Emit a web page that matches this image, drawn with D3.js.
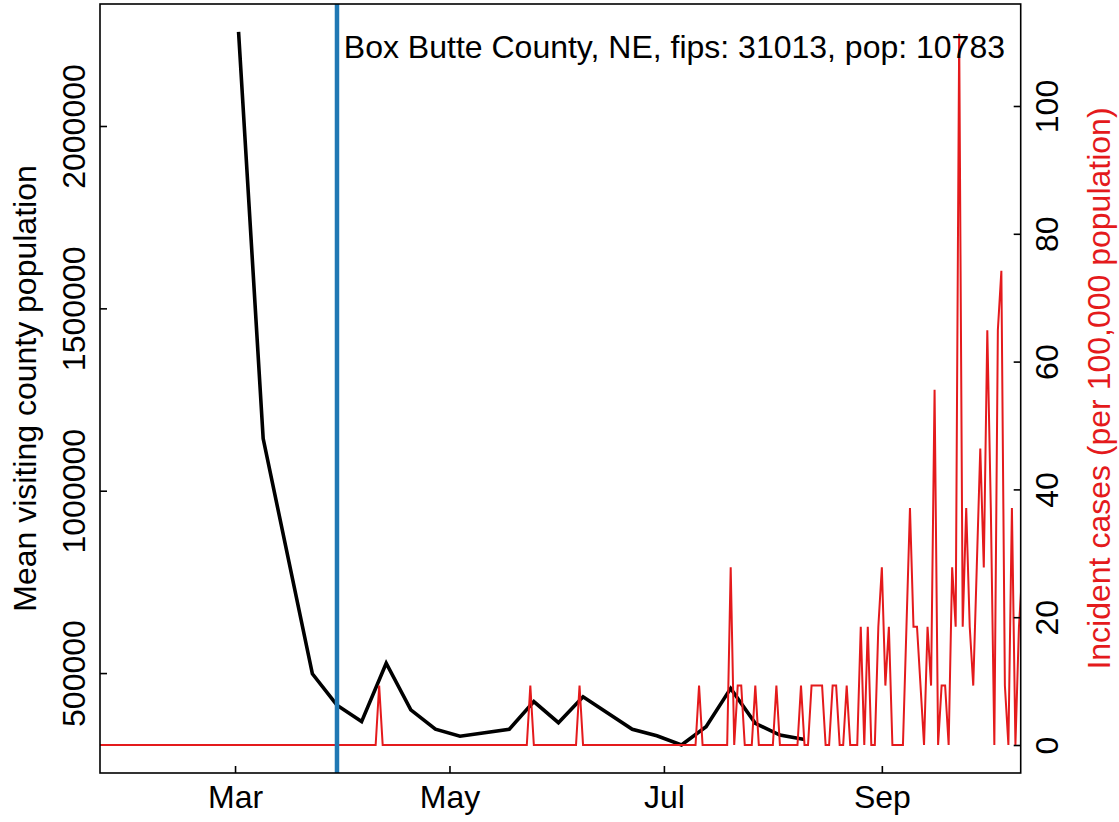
<!DOCTYPE html>
<html><head><meta charset="utf-8">
<script src="https://cdn.jsdelivr.net/npm/d3@7"></script>
<style>
html,body{margin:0;padding:0;background:#fff;}
svg text{font-family:"Liberation Sans",Arial,Helvetica,sans-serif;}
</style>
</head><body>
<svg id="chart" width="1119" height="822"></svg>
<script>
// ---- data ----
const visitDates = ["2020-03-02","2020-03-09","2020-03-23","2020-03-30","2020-04-06","2020-04-13",
  "2020-04-20","2020-04-27","2020-05-04","2020-05-18","2020-05-25","2020-06-01","2020-06-08",
  "2020-06-22","2020-06-29","2020-07-06","2020-07-13","2020-07-20","2020-07-27","2020-08-03","2020-08-10"];
const visitPop = [2258000,1143000,498000,412000,367000,527000,
  399000,346000,327000,346000,422000,364000,435000,
  346000,328000,303000,353000,458000,362000,330000,318000];

const caseStart = "2020-01-21";
// daily incident cases per 100,000 population
const incidence = [
  0,0,0,0,0,0,0,0,0,0,0,                                              // Jan 21-31
  0,0,0,0,0,0,0,0,0,0,0,0,0,0,0,0,0,0,0,0,0,0,0,0,0,0,0,0,0,            // Feb
  0,0,0,0,0,0,0,0,0,0,0,0,0,0,0,0,0,0,0,0,0,0,0,0,0,0,0,0,0,0,0,        // Mar
  0,0,0,0,0,0,0,0,0,0,9.3,0,0,0,0,0,0,0,0,0,0,0,0,0,0,0,0,0,0,0,        // Apr
  0,0,0,0,0,0,0,0,0,0,0,0,0,0,0,0,0,0,0,0,0,0,0,9.3,0,0,0,0,0,0,0,      // May
  0,0,0,0,0,0,9.3,0,0,0,0,0,0,0,0,0,0,0,0,0,0,0,0,0,0,0,0,0,0,0,        // Jun
  0,0,0,0,0,0,0,0,0,0,9.3,0,0,0,0,0,0,0,0,27.8,0,9.3,9.3,0,0,0,9.3,0,0,0,0, // Jul
  0,9.3,0,0,0,0,0,0,9.3,0,0,9.3,9.3,9.3,9.3,0,0,9.3,9.3,0,0,9.3,0,0,0,18.5,0,18.5,0,0,18.5, // Aug
  27.8,9.3,18.5,0,0,0,0,18.5,37.1,18.5,18.5,9.3,0,18.5,9.3,55.6,0,9.3,9.3,0,
  27.8,18.5,111.3,18.5,37.1,18.5,9.3,27.8,46.4,27.8,                   // Sep
  64.9,37.1,0,64.9,74.2,9.3,0,37.1,0,18.5,27.8                        // Oct 1-11
];
const interventionDate = "2020-03-30";
const leftTicks = [500000,1000000,1500000,2000000];
const rightTicks = [0,20,40,60,80,100];
const monthTicks = ["2020-03-01","2020-05-01","2020-07-01","2020-09-01"];
const titleText = "Box Butte County, NE, fips: 31013, pop: 10783";
const leftLabel = "Mean visiting county population";
const rightLabel = "Incident cases (per 100,000 population)";

// ---- layout ----
const parse = d3.utcParse("%Y-%m-%d");
const L = 100, R = 1020.7, T = 4, B = 773;
const FS = 32;
const RED = "#E41A1C", BLUE = "#1F78B4";

const mar1 = parse("2020-03-01");
const x = d3.scaleUtc()
  .domain([d3.utcHour.offset(mar1, -38.4*24), d3.utcHour.offset(mar1, 223.5*24)])
  .range([L, R]);
const yL = d3.scaleLinear().domain([226000, 2334500]).range([B, T]);
const yR = d3.scaleLinear().domain([-4.38, 115.96]).range([B, T]);

const svg = d3.select("#chart");
svg.append("defs").append("clipPath").attr("id","plotclip")
  .append("rect").attr("x",L).attr("y",T).attr("width",R-L).attr("height",B-T);

const visit = visitDates.map((d,i)=>({date:parse(d), v:visitPop[i]}));
const start = parse(caseStart);
const cases = incidence.map((v,i)=>({date:d3.utcDay.offset(start,i), v}));

const g = svg.append("g").attr("clip-path","url(#plotclip)");
g.append("path").datum(visit)
  .attr("fill","none").attr("stroke","#000").attr("stroke-width",3.6)
  .attr("stroke-linejoin","miter").attr("stroke-linecap","butt")
  .attr("d", d3.line().x(d=>x(d.date)).y(d=>yL(d.v)));
g.append("path").datum(cases)
  .attr("fill","none").attr("stroke",RED).attr("stroke-width",2)
  .attr("stroke-linejoin","miter")
  .attr("d", d3.line().x(d=>x(d.date)).y(d=>yR(d.v)));
const xi = x(parse(interventionDate));
g.append("line").attr("x1",xi).attr("x2",xi).attr("y1",T).attr("y2",B)
  .attr("stroke",BLUE).attr("stroke-width",4.5);

// ---- axes ----
function styleAxis(sel){
  sel.select(".domain").remove();
  sel.selectAll(".tick line").attr("stroke","#000").attr("stroke-width",1.6);
  sel.selectAll(".tick text").attr("fill","#000").attr("font-size",FS)
    .attr("font-family","Liberation Sans, Arial, sans-serif");
}
const ax = svg.append("g").attr("transform",`translate(0,${B})`)
  .call(d3.axisBottom(x).tickValues(monthTicks.map(parse)).tickFormat(d3.utcFormat("%b")).tickSize(-7).tickSizeOuter(0));
styleAxis(ax);
ax.selectAll(".tick text").attr("y",35).attr("dy",0);

const al = svg.append("g").attr("transform",`translate(${L},0)`)
  .call(d3.axisLeft(yL).tickValues(leftTicks).tickFormat(d3.format("d")).tickSize(-7).tickSizeOuter(0));
styleAxis(al);
al.selectAll(".tick text").attr("x",0).attr("dy",0).attr("text-anchor","middle")
  .attr("transform","translate(-15,0) rotate(-90)");

const ar = svg.append("g").attr("transform",`translate(${R},0)`)
  .call(d3.axisRight(yR).tickValues(rightTicks).tickFormat(d3.format("d")).tickSize(-7).tickSizeOuter(0));
styleAxis(ar);
ar.selectAll(".tick text").attr("x",0).attr("dy",0).attr("text-anchor","middle")
  .attr("transform","translate(37.5,0) rotate(-90)");

// frame
svg.append("rect").attr("x",L).attr("y",T).attr("width",R-L).attr("height",B-T)
  .attr("fill","none").attr("stroke","#000").attr("stroke-width",1.6);

// labels
svg.append("text").attr("transform",`translate(36,${(T+B)/2}) rotate(-90)`)
  .attr("text-anchor","middle").attr("font-size",FS).attr("fill","#000").text(leftLabel);
svg.append("text").attr("transform",`translate(1110,${(T+B)/2}) rotate(-90)`)
  .attr("text-anchor","middle").attr("font-size",FS).attr("fill",RED).text(rightLabel);
svg.append("text").attr("x",1005).attr("y",58).attr("text-anchor","end")
  .attr("font-size",FS).attr("fill","#000").text(titleText);
</script>
</body></html>
